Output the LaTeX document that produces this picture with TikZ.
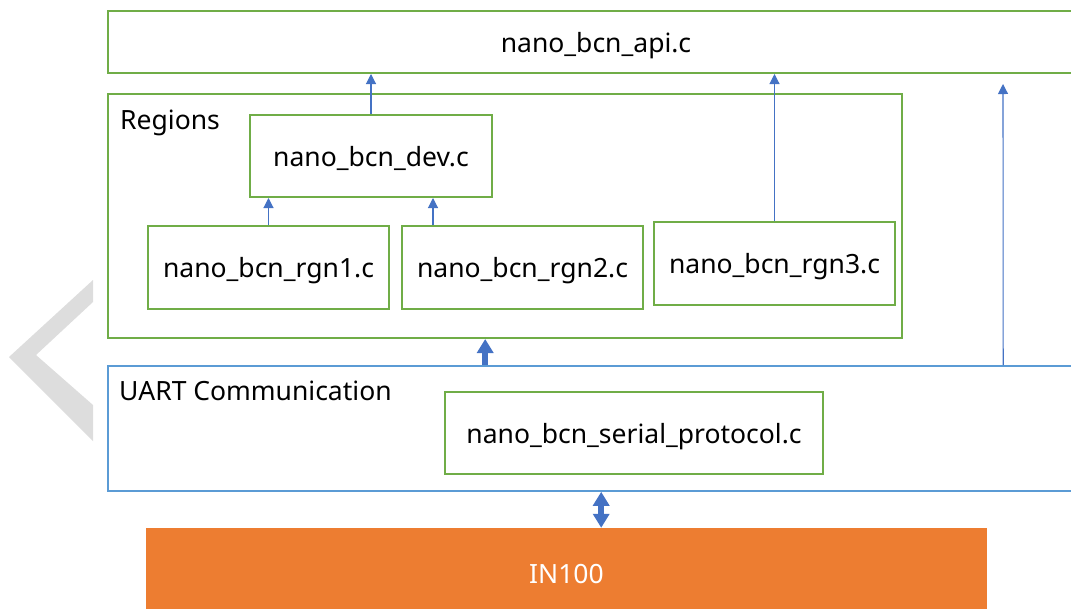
\documentclass[tikz,border=0pt]{standalone}
\usepackage{fontspec}
\setmainfont{Noto Sans}
\usetikzlibrary{arrows.meta,calc}
\definecolor{boxgreen}{RGB}{112,173,71}
\definecolor{boxblue}{RGB}{91,155,213}
\definecolor{arrowblue}{RGB}{68,114,196}
\definecolor{chiporange}{RGB}{237,125,49}
\definecolor{markgray}{RGB}{221,221,221}
\tikzset{
  labelfont/.style={font=\fontsize{26.5}{31}\selectfont},
  gbox/.style={draw=boxgreen, line width=2pt, rectangle, inner sep=0pt, text depth=0pt, labelfont},
  ubox/.style={draw=boxblue, line width=1.6pt, rectangle, inner sep=0pt},
  chipbox/.style={fill=chiporange, rectangle, inner sep=0pt, text=white, labelfont},
  grouplabel/.style={inner sep=0pt, anchor=base west, labelfont},
  thinarrow/.style={draw=arrowblue, line width=1.1pt, -{Triangle[width=10pt,length=10pt]}},
  thickarrow/.style={draw=arrowblue, line width=6pt, -{Triangle[width=16pt,length=14pt]}},
  dblarrow/.style={draw=arrowblue, line width=6pt, {Triangle[width=16pt,length=14pt]}-{Triangle[width=16pt,length=14pt]}}
}
\begin{document}
\begin{tikzpicture}[x=1pt,y=-1pt]
\useasboundingbox (0,0) rectangle (1071,608);
\clip (0,0) rectangle (1071,608);

% faint chevron mark at the left edge
\fill[markgray] (93,280) -- (9,357) -- (93,441) -- (93,405) -- (36,355) -- (93,302) -- cycle;

% top API layer
\node[gbox, minimum width=976pt, minimum height=62pt] (api) at (596,42) {nano\_bcn\_api.c};

% regions group
\node[gbox, minimum width=794pt, minimum height=244pt] (regions) at (505,216) {};
\node[grouplabel] (regionslbl) at (120,129) {Regions};
\node[gbox, minimum width=242pt, minimum height=82pt] (dev) at (371,156) {nano\_bcn\_dev.c};
\node[gbox, minimum width=241pt, minimum height=83pt] (rgn1) at (268.5,267.5) {nano\_bcn\_rgn1.c};
\node[gbox, minimum width=241pt, minimum height=83pt] (rgn2) at (522.5,267.5) {nano\_bcn\_rgn2.c};
\node[gbox, minimum width=241pt, minimum height=83pt] (rgn3) at (774.5,263.5) {nano\_bcn\_rgn3.c};

% UART group
\node[ubox, minimum width=976pt, minimum height=125pt] (uart) at (596,428.5) {};
\node[grouplabel] (uartlbl) at (119,400) {UART Communication};
\node[gbox, minimum width=378pt, minimum height=82pt] (serial) at (634,433) {nano\_bcn\_serial\_protocol.c};

% hardware
\node[chipbox, minimum width=841pt, minimum height=92pt] (in100) at (566.5,574) {IN100};

% dependencies
\draw[thinarrow] (dev.north) -- (dev.north |- api.south);
\draw[thinarrow] (rgn3.north) -- (rgn3.north |- api.south);
\draw[thinarrow] (rgn1.north) -- (rgn1.north |- dev.south);
\coordinate (rgn2top) at ($(rgn2.north west)+(32,0)$);
\draw[thinarrow] (rgn2top) -- (rgn2top |- dev.south);
\coordinate (uartright) at ($(uart.north west)+(896,0)$);
\coordinate (apigap) at ($(api.south west)+(896,10)$);
\draw[thinarrow] (uartright) -- (apigap);
\coordinate (uartmid) at ($(uart.north west)+(378,0)$);
\draw[thickarrow] (uartmid) -- (uartmid |- regions.south);
\coordinate (uartlow) at ($(uart.south west)+(494,0)$);
\draw[dblarrow] (uartlow) -- (uartlow |- in100.north);
\end{tikzpicture}
\end{document}
